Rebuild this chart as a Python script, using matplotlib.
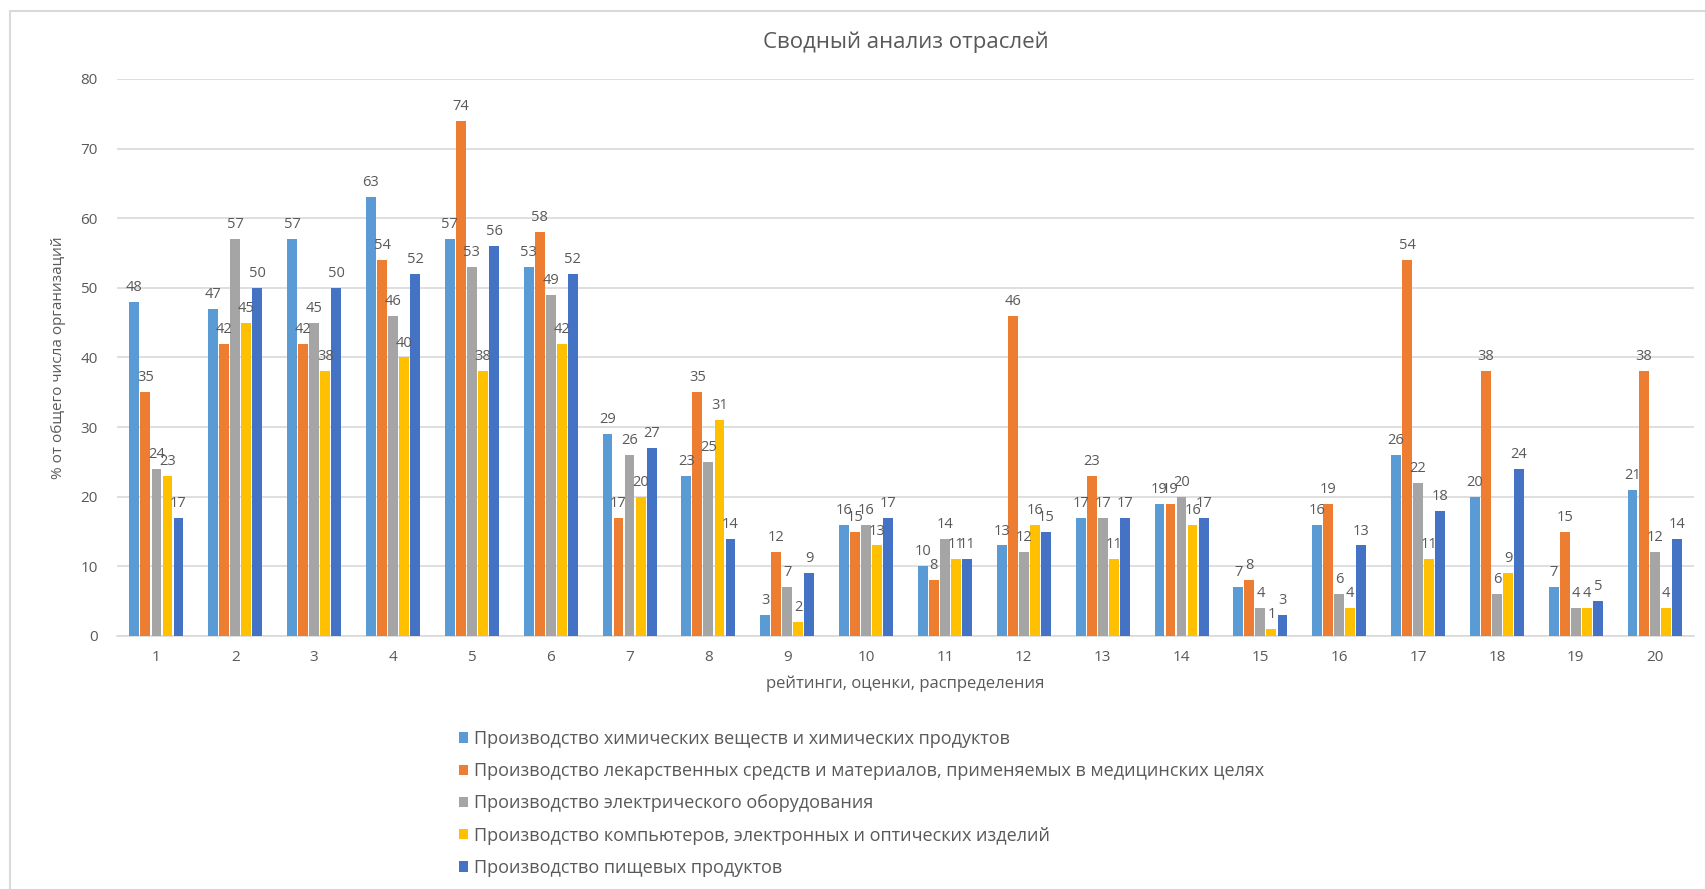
import matplotlib
matplotlib.use("Agg")
import matplotlib.pyplot as plt
import numpy as np
from matplotlib.patches import Rectangle

categories = [str(i) for i in range(1, 21)]
chem = [48, 47, 57, 63, 57, 53, 29, 23, 3, 16, 10, 13, 17, 19, 7, 16, 26, 20, 7, 21]
pharma = [35, 42, 42, 54, 74, 58, 17, 35, 12, 15, 8, 46, 23, 19, 8, 19, 54, 38, 15, 38]
electric = [24, 57, 45, 46, 53, 49, 26, 25, 7, 16, 14, 12, 17, 20, 4, 6, 22, 6, 4, 12]
computers = [23, 45, 38, 40, 38, 42, 20, 31, 2, 13, 11, 16, 11, 16, 1, 4, 11, 9, 4, 4]
food = [17, 50, 50, 52, 56, 52, 27, 14, 9, 17, 11, 15, 17, 17, 3, 13, 18, 24, 5, 14]

series_names = [
    "Производство химических веществ и химических продуктов",
    "Производство лекарственных средств и материалов, применяемых в медицинских целях",
    "Производство электрического оборудования",
    "Производство компьютеров, электронных и оптических изделий",
    "Производство пищевых продуктов",
]
series = [chem, pharma, electric, computers, food]
colors = ["#5B9BD5", "#ED7D31", "#A5A5A5", "#FFC000", "#4472C4"]

title = "Сводный анализ отраслей"
xlabel = "рейтинги, оценки, распределения"
ylabel = "% от общего числа организаций"

plt.rcParams['font.family'] = ['Open Sans', 'DejaVu Sans']
txt = "#595959"

fig = plt.figure(figsize=(17.06, 8.89), dpi=100)
ax = fig.add_axes([0.0686, 0.2846, 0.9244, 0.6266])

x = np.arange(len(categories))
w = 0.125
step = 0.14
for i, (vals, c, name) in enumerate(zip(series, colors, series_names)):
    pos = x + (i - 2) * step
    bars = ax.bar(pos, vals, width=w, color=c, label=name, zorder=3)
    for b, v in zip(bars, vals):
        ax.text(b.get_x() + b.get_width() / 2, v + 1.0, str(v), ha="center", va="bottom",
                fontsize=10.5, color=txt, zorder=4)

ax.set_xlim(-0.5, len(categories) - 0.5)
ax.set_ylim(0, 80)
ax.set_yticks(range(0, 81, 10))
ax.set_xticks(x)
ax.set_xticklabels(categories)
ax.tick_params(axis="both", length=0, colors=txt, labelsize=11)
ax.tick_params(axis="y", pad=14)
ax.tick_params(axis="x", pad=10)
ax.grid(axis="y", color="#D9D9D9", linewidth=1.2, zorder=0)
for s in ["top", "right", "left"]:
    ax.spines[s].set_visible(False)
ax.spines["bottom"].set_color("#D9D9D9")
ax.spines["bottom"].set_linewidth(1.2)

ax.set_title(title, fontsize=16, color=txt, pad=22)
ax.set_xlabel(xlabel, fontsize=12, color=txt, labelpad=8)
ax.set_ylabel(ylabel, fontsize=11, color=txt, labelpad=10)

leg = fig.legend(loc="upper left", bbox_to_anchor=(0.269, 0.179), ncol=1, frameon=False,
                 handlelength=0.5, handleheight=0.5, handletextpad=0.35,
                 labelspacing=0.79, borderaxespad=0, borderpad=0,
                 prop={'family': ['Open Sans', 'DejaVu Sans'], 'size': 13})
for t in leg.get_texts():
    t.set_color(txt)

fig.patches.append(Rectangle((0.006, -0.01), 0.994, 0.998, transform=fig.transFigure,
                             fill=False, edgecolor="#D9D9D9", linewidth=1.5))

fig.savefig("out.png", dpi=100)
